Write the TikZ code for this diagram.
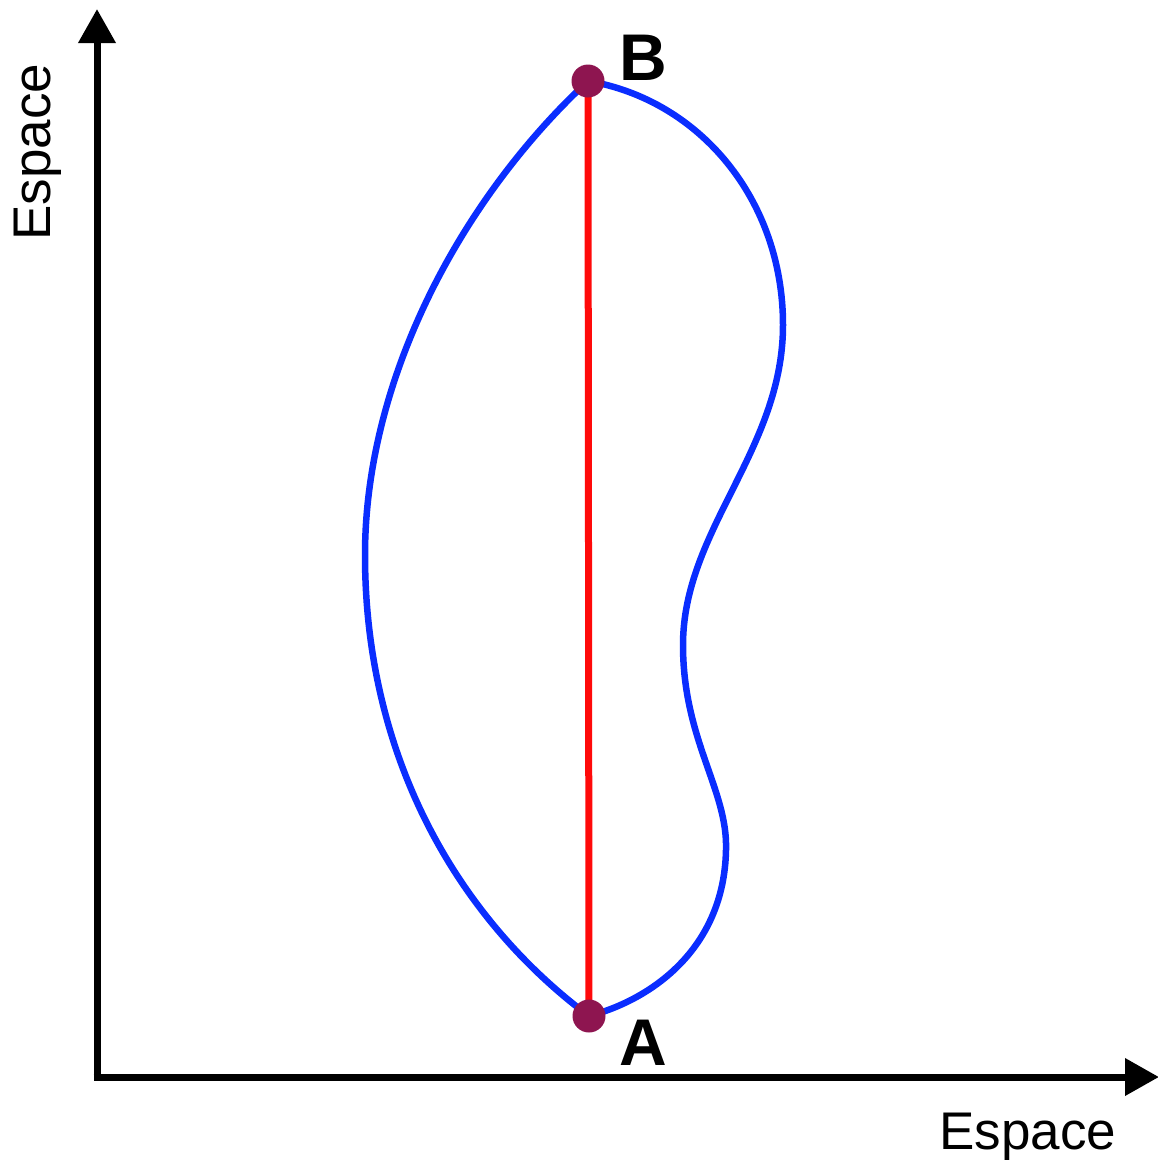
\documentclass[tikz,border=0pt]{standalone}
\usepackage{fontspec}
\setmainfont{Liberation Sans}
\usetikzlibrary{arrows.meta}
\definecolor{dotcol}{RGB}{142,21,80}
\definecolor{curvecol}{RGB}{10,45,255}
\definecolor{linecol}{RGB}{255,10,10}
\tikzset{
  axis/.style={line width=7pt,-{Triangle[length=34pt,width=36pt]}},
  pathcurve/.style={line width=6.5pt,draw=curvecol},
  dotpt/.style={circle,fill=dotcol,minimum size=33pt,inner sep=0pt},
  ptlabel/.style={font=\bfseries\fontsize{66}{66}\selectfont,inner sep=0pt},
  axlabel/.style={font=\fontsize{53}{53}\selectfont,inner sep=0pt}
}
\begin{document}
\begin{tikzpicture}[x=1pt,y=-1pt]
\useasboundingbox (0,0) rectangle (1157,1162);
\coordinate (O) at (97,1077);
\coordinate (Ytip) at (97,9);
\coordinate (Xtip) at (1159,1077);
\draw[axis] ([yshift=-3.5pt]O) -- (Ytip);
\draw[axis] ([xshift=-3.5pt]O) -- (Xtip);
\node[axlabel] (xl) at (1028,1137) {Espace};
\node[axlabel,rotate=90] (yl) at (38,152) {Espace};
\coordinate (Bc) at (588,81);
\coordinate (Ac) at (589,1016);
% curves
\draw[pathcurve] (Bc) .. controls (460,200) and (365,380) .. (365,555)
  .. controls (365,760) and (460,920) .. (Ac);
\draw[pathcurve] (Bc) .. controls (700,100) and (783,200) .. (783,325)
  .. controls (783,450) and (683,530) .. (683,645)
  .. controls (683,740) and (728,790) .. (726,850)
  .. controls (724,950) and (650,1000) .. (Ac);
\draw[line width=7pt,draw=linecol] (Bc) -- (Ac);
\node[dotpt] (B) at (Bc) {};
\node[dotpt] (A) at (Ac) {};
\node[ptlabel] (labB) at (643,58) {B};
\node[ptlabel] (labA) at (643,1043) {A};
\end{tikzpicture}
\end{document}
